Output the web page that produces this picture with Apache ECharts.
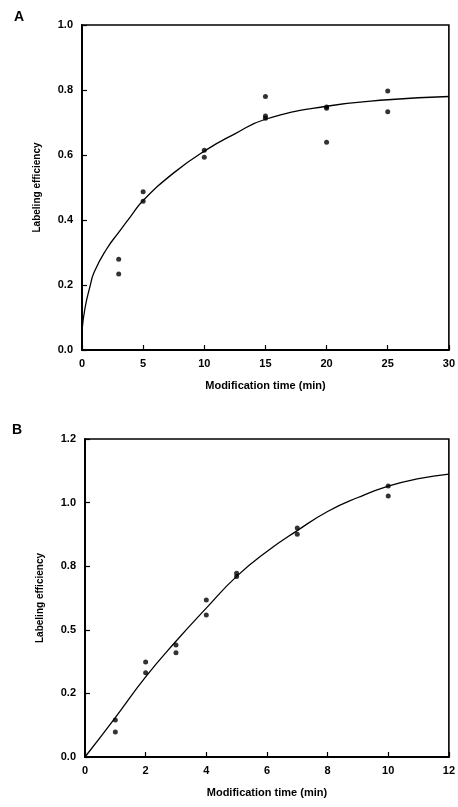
<!DOCTYPE html>
<html>
<head>
<meta charset="utf-8">
<script src="https://cdn.jsdelivr.net/npm/echarts@6/dist/echarts.min.js"></script>
<style>
  html, body { margin: 0; padding: 0; background: #fff; }
  #chart { width: 458px; height: 807px; }
</style>
</head>
<body>
<div id="chart"></div>
<script>
// Panel A: labeling efficiency vs modification time (0–30 min)
const aTimes  = [3, 3, 5, 5, 10, 10, 15, 15, 15, 20, 20, 20, 25, 25];
const aValues = [0.279, 0.234, 0.487, 0.458, 0.615, 0.593, 0.780, 0.720, 0.713, 0.748, 0.744, 0.639, 0.797, 0.733];
const aFitTimes  = [0, 0.25, 0.65, 1, 2, 3, 4, 5, 7.5, 10, 12.5, 15, 20, 25, 30];
const aFitValues = [0.06, 0.13, 0.195, 0.24, 0.31, 0.362, 0.412, 0.46, 0.545, 0.612, 0.665, 0.71, 0.75, 0.77, 0.78];
const aYTicks = ['0.0', '0.2', '0.4', '0.6', '0.8', '1.0'];

// Panel B: labeling efficiency vs modification time (0–12 min)
const bTimes  = [1, 1, 2, 2, 3, 3, 4, 4, 5, 5, 7, 7, 10, 10];
const bValues = [0.145, 0.098, 0.373, 0.331, 0.440, 0.410, 0.617, 0.558, 0.722, 0.710, 0.900, 0.876, 1.065, 1.026];
const bFitTimes  = [0, 1, 2, 3, 4, 5, 6, 7, 8, 9, 10, 11, 12];
const bFitValues = [0, 0.155, 0.315, 0.455, 0.585, 0.71, 0.808, 0.89, 0.965, 1.02, 1.065, 1.094, 1.112];
const bYTicks = ['0.0', '0.2', '0.5', '0.8', '1.0', '1.2'];

const xTitle = 'Modification time (min)';
const yTitle = 'Labeling efficiency';

const FONT = '"Liberation Sans", Arial, Helvetica, sans-serif';

function pairs(xs, ys) { return xs.map((x, i) => [x, ys[i]]); }

function xAxisFor(gridIndex, max, interval) {
  return {
    gridIndex, type: 'value', min: 0, max, interval,
    name: xTitle, nameLocation: 'middle', nameGap: 30,
    nameTextStyle: { fontFamily: FONT, fontSize: 11, fontWeight: 'bold', color: '#000' },
    axisLine: { show: true, lineStyle: { color: '#000', width: 2 } },
    axisTick: { show: true, inside: true, length: 5, lineStyle: { color: '#000', width: 1.2 } },
    axisLabel: { fontFamily: FONT, fontSize: 11, fontWeight: 'bold', color: '#000', margin: 8 },
    splitLine: { show: false }
  };
}

function yAxisFor(gridIndex, max, interval, ticks) {
  return {
    gridIndex, type: 'value', min: 0, max, interval,
    name: yTitle, nameLocation: 'middle', nameGap: 40, nameRotate: 90,
    nameTextStyle: { fontFamily: FONT, fontSize: 10, fontWeight: 'bold', color: '#000' },
    axisLine: { show: true, lineStyle: { color: '#000', width: 2 } },
    axisTick: { show: true, inside: true, length: 5, lineStyle: { color: '#000', width: 1.2 } },
    axisLabel: {
      fontFamily: FONT, fontSize: 11, fontWeight: 'bold', color: '#000', margin: 9,
      formatter: v => ticks[Math.round(v / interval)]
    },
    splitLine: { show: false }
  };
}

const chart = echarts.init(document.getElementById('chart'), null, { renderer: 'canvas' });

chart.setOption({
  animation: false,
  backgroundColor: '#fff',
  grid: [
    { left: 82, top: 25, width: 369, height: 325, show: true, borderColor: '#000', borderWidth: 1.6, backgroundColor: 'transparent' },
    { left: 85, top: 439, width: 364, height: 318, show: true, borderColor: '#000', borderWidth: 1.6, backgroundColor: 'transparent' }
  ],
  xAxis: [xAxisFor(0, 30, 5), xAxisFor(1, 12, 2)],
  yAxis: [yAxisFor(0, 1.0, 0.2, aYTicks), yAxisFor(1, 1.25, 0.25, bYTicks)],
  graphic: [
    { type: 'text', left: 14, top: 10, style: { text: 'A', fontFamily: FONT, fontSize: 14, fontWeight: 'bold', fill: '#000' } },
    { type: 'text', left: 12, top: 423, style: { text: 'B', fontFamily: FONT, fontSize: 14, fontWeight: 'bold', fill: '#000' } }
  ],
  series: [
    {
      type: 'line', xAxisIndex: 0, yAxisIndex: 0,
      data: pairs(aFitTimes, aFitValues),
      smooth: 0.5, showSymbol: false,
      lineStyle: { color: '#000', width: 1.3 }
    },
    {
      type: 'scatter', xAxisIndex: 0, yAxisIndex: 0,
      data: pairs(aTimes, aValues),
      symbol: 'circle', symbolSize: 5, itemStyle: { color: '#000' }
    },
    {
      type: 'line', xAxisIndex: 1, yAxisIndex: 1,
      data: pairs(bFitTimes, bFitValues),
      smooth: 0.5, showSymbol: false,
      lineStyle: { color: '#000', width: 1.3 }
    },
    {
      type: 'scatter', xAxisIndex: 1, yAxisIndex: 1,
      data: pairs(bTimes, bValues),
      symbol: 'circle', symbolSize: 5, itemStyle: { color: '#000' }
    }
  ]
});
</script>
</body>
</html>
